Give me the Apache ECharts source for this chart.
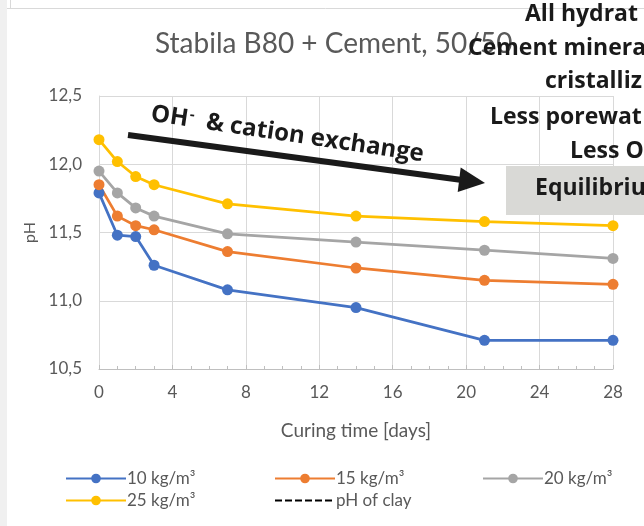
<!DOCTYPE html>
<html>
<head>
<meta charset="utf-8">
<script src="https://cdn.jsdelivr.net/npm/echarts@6/dist/echarts.min.js"></script>
<style>html,body{margin:0;padding:0;background:#fff;}#c{width:644px;height:526px;}</style>
</head>
<body>
<div id="c"></div>
<script>
const days = [0, 1, 2, 3, 7, 14, 21, 28];
const s10 = [11.79, 11.48, 11.47, 11.26, 11.08, 10.95, 10.71, 10.71];
const s15 = [11.85, 11.62, 11.55, 11.52, 11.36, 11.24, 11.15, 11.12];
const s20 = [11.95, 11.79, 11.68, 11.62, 11.49, 11.43, 11.37, 11.31];
const s25 = [12.18, 12.02, 11.91, 11.85, 11.71, 11.62, 11.58, 11.55];
const seriesNames = ['10 kg/m³', '15 kg/m³', '20 kg/m³', '25 kg/m³', 'pH of clay'];
const colors = ['#4472C4', '#ED7D31', '#A5A5A5', '#FFC000'];
const notes = ['All hydrat', 'Cement minera', 'cristalliz', 'Less porewat', 'Less O', 'Equilibriu'];

const F = 'Lato, "Open Sans", sans-serif';
const FB = '"Open Sans", Lato, sans-serif';
const gray = '#595959';

function pairs(ys) { return days.map((d, i) => [d, ys[i]]); }
function lineSeries(name, ys, color) {
  return {
    name: name, type: 'line', data: pairs(ys),
    symbol: 'circle', symbolSize: 11,
    lineStyle: { color: color, width: 2.75 },
    itemStyle: { color: color },
    z: 3
  };
}

const chart = echarts.init(document.getElementById('c'));
const legendPos = [[60, 465], [269, 465], [477, 465], [60, 487], [269, 487]];
chart.setOption({
  animation: false,
  title: {
    text: 'Stabila B80 + Cement, 50/50',
    left: 150, top: 25,
    textStyle: { fontFamily: F, fontSize: 28, fontWeight: 'normal', color: gray }
  },
  legend: seriesNames.map((n, i) => ({
    data: [i === 4 ? { name: n, itemStyle: { opacity: 0 } } : n],
    left: legendPos[i][0], top: legendPos[i][1],
    itemWidth: 60, itemHeight: 12, itemGap: 0,
    textStyle: { fontFamily: F, fontSize: 17, color: gray, padding: [0, 0, 0, -4] }
  })),
  grid: { left: 99, right: 31, top: 96, bottom: 157, containLabel: false },
  xAxis: {
    type: 'value', min: 0, max: 28, interval: 4,
    name: 'Curing time [days]', nameLocation: 'middle', nameGap: 52,
    nameTextStyle: { fontFamily: F, fontSize: 19, color: gray },
    axisLine: { lineStyle: { color: '#bfbfbf', width: 1 } },
    axisTick: { show: true, inside: true, length: 4, lineStyle: { color: '#bfbfbf' } },
    minorTick: { show: true, splitNumber: 4, length: 3, lineStyle: { color: '#bfbfbf' } },
    axisLabel: { fontFamily: F, fontSize: 17, color: gray, margin: 15 },
    splitLine: { show: true, lineStyle: { color: '#d9d9d9', width: 1 } }
  },
  yAxis: {
    type: 'value', min: 10.5, max: 12.5, interval: 0.5,
    name: 'pH', nameLocation: 'middle', nameGap: 44, nameRotate: 90,
    nameTextStyle: { fontFamily: F, fontSize: 16, color: gray },
    axisLine: { show: true, lineStyle: { color: '#d9d9d9', width: 1 } },
    axisTick: { show: false },
    axisLabel: { fontFamily: F, fontSize: 17, color: gray, margin: 17,
      formatter: v => v.toFixed(1).replace('.', ',') },
    splitLine: { show: true, lineStyle: { color: '#d9d9d9', width: 1 } }
  },
  series: [
    lineSeries(seriesNames[0], s10, colors[0]),
    lineSeries(seriesNames[1], s15, colors[1]),
    lineSeries(seriesNames[2], s20, colors[2]),
    lineSeries(seriesNames[3], s25, colors[3]),
    { name: seriesNames[4], type: 'line', data: [], symbol: 'none',
      lineStyle: { color: '#000', width: 3, type: [7, 3] }, itemStyle: { color: '#000' } }
  ],
  graphic: [
    { type: 'rect', shape: { x: 0, y: 0, width: 7, height: 526 }, style: { fill: '#f0f0f0' }, silent: true },
    { type: 'line', shape: { x1: 7, y1: 8.5, x2: 644, y2: 8.5 }, style: { stroke: '#d9d9d9', lineWidth: 1 }, silent: true },
    { type: 'line', shape: { x1: 10.5, y1: 0, x2: 10.5, y2: 8 }, style: { stroke: '#d9d9d9', lineWidth: 1 }, silent: true },
    // arrow
    { type: 'line', shape: { x1: 128, y1: 135, x2: 462, y2: 180 }, style: { stroke: '#1a1a1a', lineWidth: 6 }, z: 10 },
    { type: 'polygon', shape: { points: [[485, 183], [457.7, 192], [460.7, 167.5]] }, style: { fill: '#1a1a1a' }, z: 10 },
    { type: 'text', x: 151, y: 114, rotation: -0.148, z: 10,
      style: {
        text: '{a|OH}{b|-}{a|  & cation exchange}', textVerticalAlign: 'middle', textAlign: 'left',
        rich: {
          a: { fontFamily: FB, fontSize: 24, fontWeight: 'bold', fill: '#1a1a1a' },
          b: { fontFamily: FB, fontSize: 15, fontWeight: 'bold', fill: '#1a1a1a', verticalAlign: 'top', padding: [0, 0, 10, 1] }
        }
      } },
    // right side notes
    { type: 'rect', shape: { x: 506, y: 166, width: 138, height: 49 }, style: { fill: '#d9d9d6' }, z: 10 },
    ...notes.map((t, i) => ({
      type: 'text', z: 11,
      x: [525, 468, 545, 490, 570, 535][i],
      y: [14, 48, 81, 117, 151, 188][i],
      style: { text: t, fontFamily: FB, fontSize: 23, fontWeight: 'bold', fill: '#1a1a1a', textVerticalAlign: 'middle' }
    }))
  ]
});
</script>
</body>
</html>
